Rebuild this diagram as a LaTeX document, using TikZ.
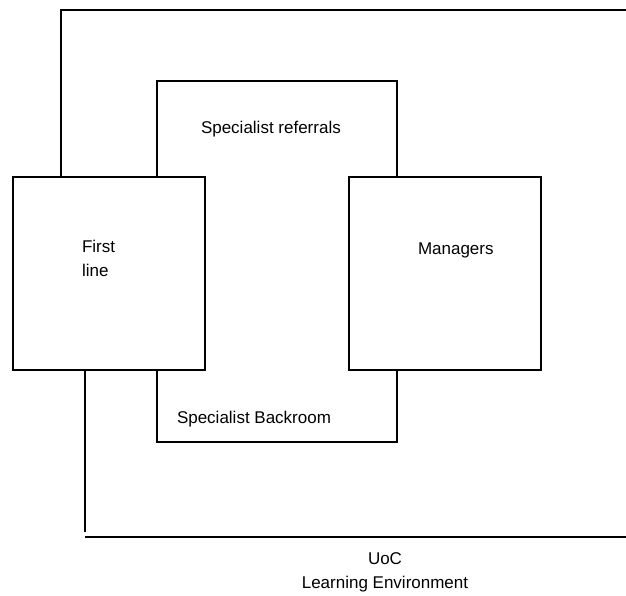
\documentclass[tikz,border=0pt]{standalone}
\usepackage{fontspec}
\setmainfont{Liberation Sans}
\usetikzlibrary{positioning}
\tikzset{
  unitbox/.style  = {rectangle, draw=black, line width=2pt, inner sep=0pt, outer sep=0pt,
                     minimum width=192pt, minimum height=193pt},
  wire/.style     = {draw=black, line width=2pt},
  thinwire/.style = {draw=black, line width=1.2pt},
  lbl/.style      = {font=\fontsize{17}{24}\selectfont, inner sep=0pt, outer sep=0pt},
}
\begin{document}
\begin{tikzpicture}[x=1pt,y=-1pt]
  \useasboundingbox (0,0) rectangle (626,596);

  \node[unitbox, anchor=north west] (first) at (13,177) {};
  \node[unitbox, anchor=north west] (mgr) at (349,177) {};

  \node[lbl, anchor=north west, align=left] (firstlbl) at (82,240) {First\\line};
  \node[lbl, anchor=base west] (mgrlbl) at (418,254) {Managers};
  \node[lbl, anchor=base west] (reflbl) at (201,134) {Specialist referrals};
  \node[lbl, anchor=base west] (backlbl) at (177,423) {Specialist Backroom};
  \node[lbl, anchor=north, align=center] (uoclbl) at (385,553) {UoC\\Learning Environment};

  \coordinate (topend) at (626,10);
  \coordinate (botend) at (626,537);

  % outer loop round the learning environment
  \draw[wire] ([xshift=48pt]first.north west) |- (topend);
  \draw[wire] ([xshift=72pt]first.south west) -- ++(0,162) coordinate (botstart);
  \draw[wire] (botstart |- botend) -- (botend);

  % specialist referrals
  \draw[wire] ([xshift=144pt]first.north west) -- ++(0,-96) -| ([xshift=48pt]mgr.north west);

  % specialist backroom
  \draw[wire] ([xshift=144pt]first.south west) -- ++(0,22) coordinate (backA);
  \draw[thinwire] (backA) |- (374,442) coordinate (backB);
  \draw[wire] (backB) -| ([xshift=48pt]mgr.south west);
\end{tikzpicture}
\end{document}
